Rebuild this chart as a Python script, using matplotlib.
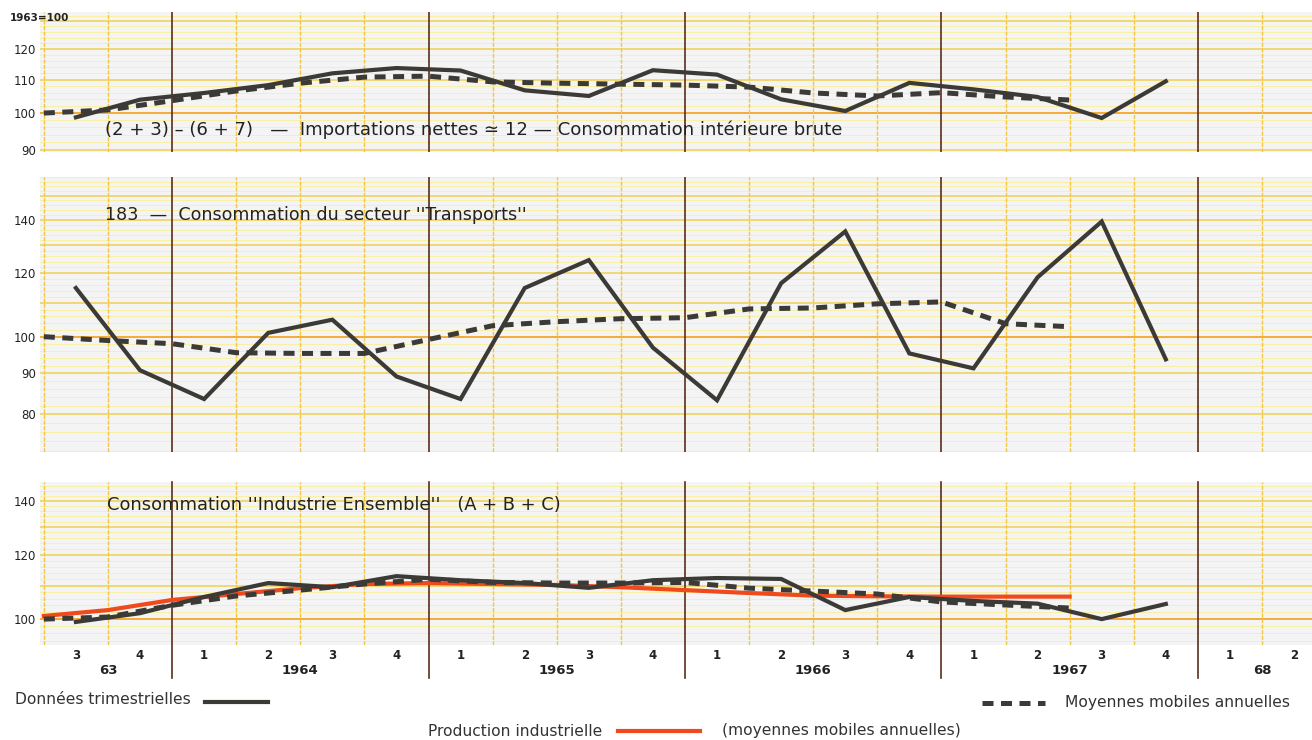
import numpy as np
import matplotlib
matplotlib.use("Agg")
import matplotlib.pyplot as plt
from matplotlib.ticker import FixedLocator, FixedFormatter, NullLocator
from matplotlib.lines import Line2D

# quarterly data (plotted at mid-quarter), 1963 Q3 -> 1967 Q4
top_solid = [98.8, 103.9, 105.9, 108.3, 112.0, 113.7, 112.9, 106.7, 105.0, 113.0,
             111.6, 104.0, 100.6, 109.0, 107.0, 104.7, 98.6, 109.5]
mid_solid = [115.0, 90.8, 83.6, 101.1, 105.0, 89.2, 83.6, 115.0, 124.6, 96.9,
             83.3, 116.6, 135.3, 95.3, 91.3, 118.6, 139.2, 93.7]
bot_solid = [99.2, 101.7, 106.5, 110.8, 109.5, 113.0, 111.7, 110.8, 109.3, 111.7,
             112.4, 112.1, 102.6, 106.5, 105.3, 104.5, 100.0, 104.4]

# annual moving averages (plotted at quarter boundaries), mid-1963 -> mid-1967
top_mm = [100.0, 100.9, 103.6, 106.5, 108.9, 110.8, 111.1, 109.3, 108.9, 108.6,
          108.3, 107.7, 105.9, 105.0, 106.0, 104.7, 103.8]
mid_mm = [100.0, 98.9, 98.0, 95.5, 95.3, 95.3, 99.2, 103.2, 104.4, 105.3,
          105.6, 108.3, 108.6, 109.9, 110.5, 103.8, 102.9]
bot_mm = [100.0, 100.6, 104.0, 106.8, 108.6, 110.5, 112.0, 111.0, 110.8, 110.8,
          111.0, 109.2, 108.3, 107.4, 105.0, 104.1, 103.2]
prod_ind = [100.9, 102.6, 105.6, 107.4, 109.2, 110.5, 110.8, 110.5, 110.2, 109.5,
            108.6, 107.7, 106.9, 106.7, 106.6, 106.6, 106.6]

quarter_labels = ["3", "4", "1", "2", "3", "4", "1", "2", "3", "4",
                  "1", "2", "3", "4", "1", "2", "3", "4", "1", "2"]
year_labels = ["63", "1964", "1965", "1966", "1967", "68"]
year_centers = [1, 4, 8, 12, 16, 19]
year_bounds = [2, 6, 10, 14, 18]

titles = ["(2 + 3) \u2013 (6 + 7)   \u2014  Importations nettes \u2243 12 \u2014 Consommation intérieure brute",
          "183  \u2014  Consommation du secteur ''Transports''",
          "Consommation ''Industrie Ensemble''   (A + B + C)"]

W, H = 1312, 740
fig = plt.figure(figsize=(W / 100, H / 100), dpi=100)
fig.patch.set_facecolor("white")

def px_axes(l, t, r, b):
    return fig.add_axes([l / W, 1 - b / H, (r - l) / W, (b - t) / H])

INK = "#3b3a36"
XLIM = (-0.06, 19.78)

panels = [
    dict(box=(40, 12, 1312, 152), ylim=(89.5, 133.4), ticks=[90, 100, 110, 120],
         solid=top_solid, mm=top_mm, title=titles[0], tpos=(0.95, 130), fs=13.1),
    dict(box=(40, 177, 1312, 452), ylim=(71.8, 158.2), ticks=[80, 90, 100, 120, 140],
         solid=mid_solid, mm=mid_mm, title=titles[1], tpos=(0.95, 215), fs=12.6),
    dict(box=(40, 482, 1312, 645), ylim=(92.9, 147.7), ticks=[100, 120, 140],
         solid=bot_solid, mm=bot_mm, title=titles[2], tpos=(0.98, 505), fs=12.9),
]

axes = []
for p in panels:
    ax = px_axes(*p["box"])
    ax.set_facecolor("#f4f4f4")
    ax.set_yscale("log")
    ax.set_ylim(*p["ylim"])
    ax.set_xlim(*XLIM)
    for s in ax.spines.values():
        s.set_visible(False)
    # grid
    lo, hi = p["ylim"]
    for v in range(int(lo) + 1, int(hi) + 1):
        if v % 2:
            continue
        if v == 100:
            ax.axhline(v, color="#f5a623", lw=1.3, zorder=1)
        elif v % 10 == 0:
            ax.axhline(v, color="#f2d04e", lw=1.1, zorder=1)
        else:
            ax.axhline(v, color="#f8f0a4", lw=0.7, zorder=1)
    for q in range(0, 20):
        if q in year_bounds:
            continue
        ax.axvline(q, color="#f3c548", lw=1.0, ls=(0, (3, 1)), zorder=1)
    ax.yaxis.set_major_locator(FixedLocator(p["ticks"]))
    ax.yaxis.set_major_formatter(FixedFormatter([str(t) for t in p["ticks"]]))
    ax.yaxis.set_minor_locator(NullLocator())
    ax.tick_params(axis="y", length=0, pad=3, labelsize=8.5, labelcolor="#222222")
    ax.set_xticks([])
    # series
    xs = np.arange(len(p["solid"])) + 0.5
    xm = np.arange(len(p["mm"]))
    ax.plot(xm, p["mm"], color=INK, lw=3.6, dashes=(2.2, 1.5), zorder=4,
            solid_capstyle="butt")
    ax.plot(xs, p["solid"], color=INK, lw=3.0, zorder=5, solid_joinstyle="miter")
    ax.text(p["tpos"][0], p["ylim"][1] * 10 ** (-(p["tpos"][1] - p["box"][1]) / 807.0),
            p["title"], fontsize=p["fs"], color="#222222", va="center", ha="left",
            zorder=6)
    axes.append(ax)

ax_top, ax_mid, ax_bot = axes
ax_bot.plot(np.arange(len(prod_ind)), prod_ind, color="#f04a1c", lw=3.0, zorder=3)

# year separators
for ax in axes:
    for yb in year_bounds:
        if ax is ax_bot:
            ax.axvline(yb, ymin=-0.2, ymax=1, color="#5a2e1e", lw=1.2, zorder=2,
                       clip_on=False)
        else:
            ax.axvline(yb, color="#5a2e1e", lw=1.2, zorder=2)

fig.text(10 / W, 1 - 18 / H, "1963=100", fontsize=7.5, fontweight="bold",
         color="#222222", va="center", ha="left")

# quarter / year labels
tr = ax_bot.get_xaxis_transform()
for i, lab in enumerate(quarter_labels):
    ax_bot.text(i + 0.5, -0.062, lab, transform=tr, ha="center", va="center",
                fontsize=8.5, fontweight="bold", color="#222222")
for xc, lab in zip(year_centers, year_labels):
    ax_bot.text(xc, -0.155, lab, transform=tr, ha="center", va="center",
                fontsize=9.5, fontweight="bold", color="#222222")

# legend
fs_leg = 11.2
fig.text(15 / W, 1 - 700 / H, "Données trimestrielles", fontsize=fs_leg,
         color="#333333", va="center", ha="left")
fig.add_artist(Line2D([205 / W, 268 / W], [1 - 702 / H] * 2, color=INK, lw=3.0))
fig.add_artist(Line2D([982 / W, 1045 / W], [1 - 703 / H] * 2, color=INK, lw=3.6,
                      dashes=(2.2, 1.5)))
fig.text(1065 / W, 1 - 703 / H, "Moyennes mobiles annuelles", fontsize=fs_leg,
         color="#333333", va="center", ha="left")
fig.text(428 / W, 1 - 731 / H, "Production industrielle", fontsize=fs_leg,
         color="#333333", va="center", ha="left")
fig.add_artist(Line2D([618 / W, 700 / W], [1 - 731 / H] * 2, color="#f04a1c", lw=3.0))
fig.text(722 / W, 1 - 731 / H, "(moyennes mobiles annuelles)", fontsize=fs_leg,
         color="#333333", va="center", ha="left")

fig.savefig("out.png", dpi=100, facecolor="white")
